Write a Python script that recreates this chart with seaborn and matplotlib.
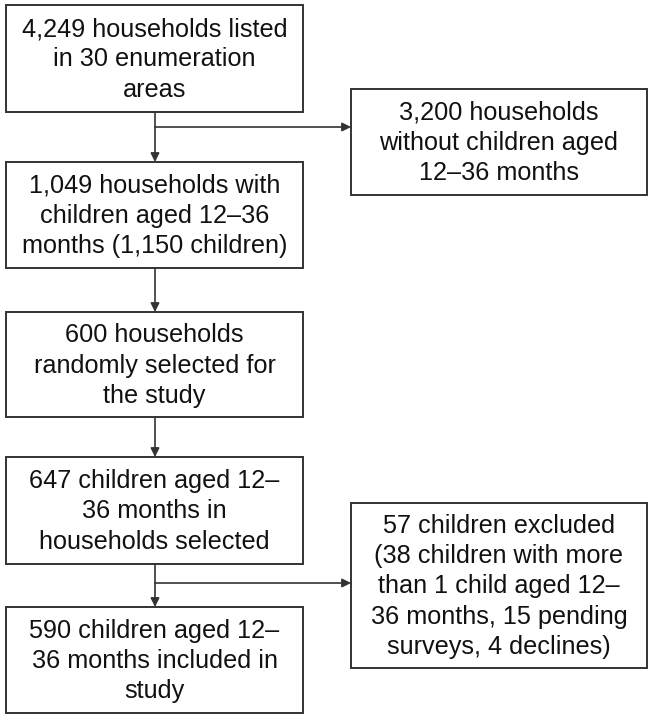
import matplotlib.pyplot as plt
from matplotlib.patches import Rectangle
import seaborn as sns

sns.set_theme(style="white")
plt.rcParams["font.family"] = ["Liberation Sans", "DejaVu Sans"]

# box texts, top to bottom on the main column
main_labels = [
    "4,249 households listed\nin 30 enumeration\nareas",
    "1,049 households with\nchildren aged 12\u201336\nmonths (1,150 children)",
    "600 households\nrandomly selected for\nthe study",
    "647 children aged 12\u2013\n36 months in\nhouseholds selected",
    "590 children aged 12\u2013\n36 months included in\nstudy",
]
# side (exclusion) boxes
side_labels = [
    "3,200 households\nwithout children aged\n12\u201336 months",
    "57 children excluded\n(38 children with more\nthan 1 child aged 12\u2013\n36 months, 15 pending\nsurveys, 4 declines)",
]

# layout in pixels (x0, x1, y0, y1)
main_boxes = [(6, 303, 5, 112), (6, 303, 162, 268), (6, 303, 312, 417),
              (6, 303, 457, 564), (6, 303, 607, 713)]
side_boxes = [(351, 647, 89, 195), (351, 647, 503, 668)]
branch_y = [127, 583]
line_x = 155
edge = "#333333"

fig = plt.figure(figsize=(6.53, 7.19), dpi=100)
ax = fig.add_axes([0, 0, 1, 1])
ax.set_xlim(0, 653)
ax.set_ylim(719, 0)
ax.axis("off")


def draw_box(box, label):
    x0, x1, y0, y1 = box
    ax.add_patch(Rectangle((x0, y0), x1 - x0, y1 - y0, fill=False,
                           edgecolor=edge, linewidth=1.4))
    ax.text((x0 + x1) / 2, (y0 + y1) / 2 + 1, label, ha="center", va="center",
            fontsize=18.2, color="#111111", linespacing=1.34)


for box, label in zip(main_boxes, main_labels):
    draw_box(box, label)
for box, label in zip(side_boxes, side_labels):
    draw_box(box, label)

arrow = dict(arrowstyle="-|>", color=edge, lw=1.2, mutation_scale=13,
             shrinkA=0, shrinkB=0)

# vertical arrows between main boxes
for upper, lower in zip(main_boxes[:-1], main_boxes[1:]):
    ax.annotate("", xy=(line_x, lower[2]), xytext=(line_x, upper[3]),
                arrowprops=arrow)

# branch arrows to exclusion boxes
for y, side in zip(branch_y, side_boxes):
    ax.annotate("", xy=(side[0], y), xytext=(line_x, y), arrowprops=arrow)

fig.savefig("out.png", dpi=100, facecolor="white")
